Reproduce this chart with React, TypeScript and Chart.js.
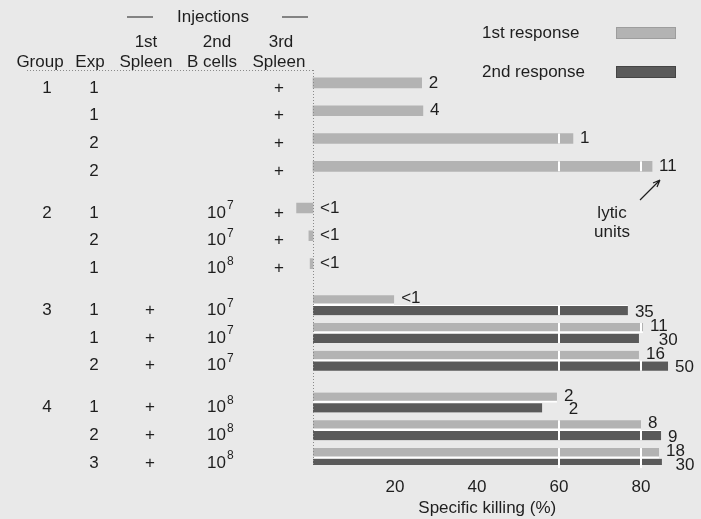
import React, { useEffect, useRef } from "react";
import { Chart, registerables } from "chart.js";
Chart.register(...registerables);

// ---- data ----
const groupLabels = ["1", "", "", "", "2", "", "", "3", "", "", "4", "", ""];
const expLabels = ["1", "1", "2", "2", "1", "2", "1", "1", "1", "2", "1", "2", "3"];
const spleen1st = ["", "", "", "", "", "", "", "+", "+", "+", "+", "+", "+"];
const bcellExponent: (number | null)[] = [null, null, null, null, 7, 7, 8, 7, 7, 7, 8, 8, 8];
const spleen3rd = ["+", "+", "+", "+", "+", "+", "+", "", "", "", "", "", ""];
const rowGroup = [0, 0, 0, 0, 1, 1, 1, 2, 2, 2, 3, 3, 3];

const firstResponse = [26.5, 26.8, 63.4, 82.7, -4, -1, -0.7, 19.8, 80.5, 79.5, 59.5, 80, 84.4];
const secondResponse: (number | null)[] = [null, null, null, null, null, null, null, 76.8, 79.5, 86.6, 55.9, 84.9, 85.1];
const firstLytic = ["2", "4", "1", "11", "<1", "<1", "<1", "<1", "11", "16", "2", "8", "18"];
const secondLytic: (string | null)[] = [null, null, null, null, null, null, null, "35", "30", "50", "2", "9", "30"];

const xTicks = [20, 40, 60, 80];
const whiteLines = [60, 80];
const seriesNames = ["1st response", "2nd response"];
const xTitle = "Specific killing (%)";

// ---- styles ----
const FONT = '"Liberation Sans", Arial, Helvetica, sans-serif';
const BG = "#e9e9e9";
const LIGHT = "#b3b3b3";
const DARK = "#5a5a5a";
const TEXT = "#1e1e1e";

// slot layout: each row 2 slots, plus 1 slot between groups
const slotOfRow = firstResponse.map((_, i) => 2 * i + rowGroup[i]);
const nSlots = slotOfRow[slotOfRow.length - 1] + 1;
const rowOfSlot: (number | null)[] = Array.from({ length: nSlots }, () => null);
slotOfRow.forEach((s, r) => (rowOfSlot[s] = r));
const slotLabels = Array.from({ length: nSlots }, (_, i) => (rowOfSlot[i] == null ? "" : "row" + rowOfSlot[i]));
const firstSlots = rowOfSlot.map((r) => (r == null ? null : firstResponse[r]));
const secondSlots = rowOfSlot.map((r) => (r == null ? null : secondResponse[r]));

const bgPlugin = {
  id: "bg",
  beforeDraw(chart: any) {
    const c = chart.ctx;
    c.save();
    c.fillStyle = BG;
    c.fillRect(0, 0, chart.width, chart.height);
    c.restore();
  },
};

const overlayPlugin = {
  id: "overlay",
  afterDatasetsDraw(chart: any) {
    const c = chart.ctx;
    const xs = chart.scales.x;
    c.save();
    c.fillStyle = "#ffffff";
    for (let d = 0; d < 2; d++) {
      const meta = chart.getDatasetMeta(d);
      meta.data.forEach((bar: any, i: number) => {
        const raw = chart.data.datasets[d].data[i];
        if (raw == null) return;
        whiteLines.forEach((g) => {
          const px = xs.getPixelForValue(g);
          if (bar.x > px + 1) c.fillRect(px - 1, bar.y - bar.height / 2, 2, bar.height);
        });
      });
    }
    c.restore();
  },
  afterDraw(chart: any) {
    const c = chart.ctx;
    const xs = chart.scales.x;
    const ys = chart.scales.y;
    const area = chart.chartArea;
    c.save();
    c.fillStyle = TEXT;
    c.strokeStyle = TEXT;
    c.font = `17px ${FONT}`;
    c.textBaseline = "middle";

    // dotted axis lines
    const x0 = xs.getPixelForValue(0);
    c.save();
    c.strokeStyle = "#8a8a8a";
    c.lineWidth = 1;
    c.setLineDash([1, 2]);
    c.beginPath();
    c.moveTo(27, 70.5);
    c.lineTo(x0, 70.5);
    c.moveTo(x0 + 0.5, 70);
    c.lineTo(x0 + 0.5, area.bottom);
    c.stroke();
    c.restore();

    // header
    c.textAlign = "center";
    c.fillText("Injections", 213, 17);
    c.lineWidth = 1.2;
    c.beginPath();
    c.moveTo(127, 17);
    c.lineTo(153, 17);
    c.moveTo(282, 17);
    c.lineTo(308, 17);
    c.stroke();
    c.fillText("1st", 146, 42);
    c.fillText("2nd", 217, 42);
    c.fillText("3rd", 281, 42);
    c.fillText("Group", 40, 62);
    c.fillText("Exp", 90, 62);
    c.fillText("Spleen", 146, 62);
    c.fillText("B cells", 212, 62);
    c.fillText("Spleen", 279, 62);

    // table rows
    const colX = { group: 47, exp: 94, s1: 150, bc: 207, s3: 279 };
    firstResponse.forEach((_, r) => {
      const y = ys.getPixelForValue(slotOfRow[r]) + 5;
      c.textAlign = "center";
      c.font = `17px ${FONT}`;
      if (groupLabels[r]) c.fillText(groupLabels[r], colX.group, y);
      c.fillText(expLabels[r], colX.exp, y);
      if (spleen1st[r]) c.fillText(spleen1st[r], colX.s1, y);
      if (spleen3rd[r]) c.fillText(spleen3rd[r], colX.s3, y);
      const e = bcellExponent[r];
      if (e != null) {
        c.textAlign = "left";
        c.fillText("10", colX.bc, y);
        const w = c.measureText("10").width;
        c.font = `12px ${FONT}`;
        c.fillText(String(e), colX.bc + w + 1, y - 7);
        c.font = `17px ${FONT}`;
      }
    });

    // lytic unit labels
    c.textAlign = "left";
    c.font = `17px ${FONT}`;
    const m0 = chart.getDatasetMeta(0);
    const m1 = chart.getDatasetMeta(1);
    firstResponse.forEach((_, r) => {
      const s = slotOfRow[r];
      const b0 = m0.data[s];
      const lx = Math.max(b0.x, b0.base) + 7;
      const t0 = firstLytic[r];
      c.fillText(t0, lx, b0.y - (secondLytic[r] ? 1.5 : 0));
      const t1 = secondLytic[r];
      if (t1 && secondResponse[r] != null) {
        const b1 = m1.data[s];
        const w0 = c.measureText(t0).width;
        let dx = Math.max(b1.x, b1.base) + 7;
        if (dx < lx + w0) dx = lx + w0 / 2;
        c.fillText(t1, dx, b1.y + 2);
      }
    });

    // legend
    const ds = chart.data.datasets;
    const legendY = [33, 72];
    ds.forEach((d: any, i: number) => {
      c.fillStyle = TEXT;
      c.fillText(d.label, 482, legendY[i]);
      c.fillStyle = d.backgroundColor;
      c.fillRect(616, legendY[i] - 6, 60, 12);
      c.strokeStyle = i === 0 ? "#9d9d9d" : "#444";
      c.lineWidth = 1;
      c.strokeRect(616.5, legendY[i] - 5.5, 59, 11);
    });

    // lytic units annotation
    c.fillStyle = TEXT;
    c.strokeStyle = TEXT;
    c.textAlign = "center";
    c.fillText("lytic", 612, 213);
    c.fillText("units", 612, 232);
    c.lineWidth = 1.2;
    c.beginPath();
    c.moveTo(640, 200);
    c.lineTo(660, 180);
    c.moveTo(660, 180);
    c.lineTo(653, 183);
    c.moveTo(660, 180);
    c.lineTo(657, 187);
    c.stroke();
    c.restore();
  },
};

export default function App() {
  const ref = useRef<HTMLCanvasElement | null>(null);
  useEffect(() => {
    document.body.style.margin = "0";
    document.body.style.background = BG;
    const canvas = ref.current!;
    const chart = new Chart(canvas, {
      type: "bar",
      data: {
        labels: slotLabels,
        datasets: [
          {
            label: seriesNames[0],
            data: firstSlots as any,
            backgroundColor: LIGHT,
            borderColor: "#ffffff",
            borderSkipped: false,
            borderWidth: ((ctx: any) => {
              const r = rowOfSlot[ctx.dataIndex];
              return r != null && secondResponse[r] != null ? { top: 0, left: 0, right: 0, bottom: 2 } : 0;
            }) as any,
            barThickness: 10,
            skipNull: true,
          } as any,
          {
            label: seriesNames[1],
            data: secondSlots as any,
            backgroundColor: DARK,
            borderColor: "#ffffff",
            borderSkipped: false,
            borderWidth: { top: 1, left: 0, right: 0, bottom: 0 },
            barThickness: 10,
            skipNull: true,
          } as any,
        ],
      },
      options: {
        indexAxis: "y",
        animation: false,
        responsive: false,
        devicePixelRatio: 1,
        layout: { padding: { left: 292.5, right: 19, top: 76, bottom: 0 } },
        plugins: { legend: { display: false }, tooltip: { enabled: false } },
        scales: {
          y: { display: false, offset: true, grid: { display: false } },
          x: {
            min: -5,
            max: 90,
            grid: { display: false, drawTicks: false },
            border: { display: false },
            afterBuildTicks: (scale: any) => {
              scale.ticks = xTicks.map((v) => ({ value: v }));
            },
            afterFit: (scale: any) => {
              scale.height = 54;
            },
            ticks: {
              padding: 12,
              color: TEXT,
              font: { family: FONT, size: 17 },
              autoSkip: false,
              maxRotation: 0,
            },
            title: {
              display: true,
              text: xTitle,
              color: TEXT,
              font: { family: FONT, size: 17 },
              padding: { top: 0, bottom: 0 },
            },
          },
        },
      },
      plugins: [bgPlugin, overlayPlugin],
    } as any);
    return () => chart.destroy();
  }, []);
  return (
    <div style={{ width: 701, height: 519 }}>
      <canvas ref={ref} width={701} height={519} style={{ display: "block" }} />
    </div>
  );
}
